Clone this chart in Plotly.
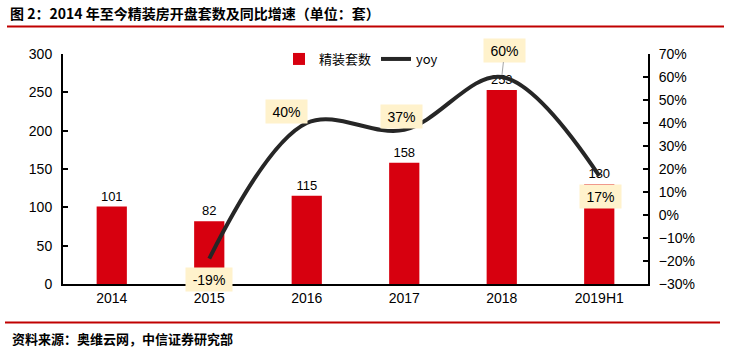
import plotly.graph_objects as go

categories = ["2014", "2015", "2016", "2017", "2018", "2019H1"]
units = [101, 82, 115, 158, 253, 130]
yoy_categories = ["2015", "2016", "2017", "2018", "2019H1"]
yoy = [-0.19, 0.40, 0.37, 0.60, 0.17]
yoy_labels = ["-19%", "40%", "37%", "60%", "17%"]

title_text = "图 2：2014 年至今精装房开盘套数及同比增速（单位：套）"
source_text = "资料来源：奥维云网，中信证券研究部"

W, H = 731, 352
L, R, T, B = 63, 83, 54, 68
pw, ph = W - L - R, H - T - B

def px_x(x):
    return (x - L) / pw

def px_y(y):
    return (H - B - y) / ph

FONT = "Liberation Sans, Arial, Noto Sans CJK SC"
CJK = "Noto Sans CJK SC, Liberation Sans"

fig = go.Figure()
fig.add_trace(go.Bar(
    x=categories, y=units, name="精装套数",
    marker=dict(color="#D7000F", line=dict(width=0)),
    width=0.31,
    texttemplate="%{y}", textposition="outside",
    textfont=dict(size=13, color="#000000", family=FONT),
    cliponaxis=False,
))
fig.add_trace(go.Scatter(
    x=yoy_categories, y=yoy, name="yoy", yaxis="y2",
    mode="lines",
    line=dict(color="#262626", width=4, shape="spline", smoothing=1.0),
))

# label offsets (pixel shifts) and box widths for the yoy data labels
shifts = [(0, -21, False, 42), (-20, 12, False, 37), (-3, 13, False, 37), (3, 27, True, 37), (1, -21, False, 37)]
for cat, v, lab, (dx, dy, arrow, bw) in zip(yoy_categories, yoy, yoy_labels, shifts):
    xi = categories.index(cat)
    common = dict(x=xi, y=v, xref="x", yref="y2", text=lab,
                  bgcolor="#FFF2CC", borderpad=2, width=bw, height=19,
                  font=dict(size=14, color="#000000", family=FONT))
    if arrow:
        fig.add_annotation(showarrow=True, arrowhead=0, arrowwidth=1, arrowcolor="#A6A6A6",
                           ax=dx, ay=-dy, standoff=2, **common)
    else:
        fig.add_annotation(showarrow=False, xshift=dx, yshift=dy, **common)

fig.add_annotation(x=px_x(10), y=px_y(338), xref="paper", yref="paper",
                   text="<b>" + source_text + "</b>", showarrow=False,
                   xanchor="left", yanchor="middle",
                   font=dict(size=13, color="#000000", family=CJK))

fig.add_shape(type="line", xref="paper", yref="paper",
              x0=px_x(7), x1=px_x(724), y0=px_y(26.5), y1=px_y(26.5),
              line=dict(color="#C00000", width=2))
fig.add_shape(type="line", xref="paper", yref="paper",
              x0=px_x(5), x1=px_x(720), y0=px_y(322.5), y1=px_y(322.5),
              line=dict(color="#C00000", width=2))

fig.update_layout(
    width=W, height=H,
    margin=dict(l=L, r=R, t=T, b=B),
    paper_bgcolor="#FFFFFF", plot_bgcolor="#FFFFFF",
    font=dict(family=FONT, size=14, color="#000000"),
    title=dict(text="<b>" + title_text + "</b>", xref="container", yref="container",
               x=10 / W, y=1 - 14 / H, xanchor="left", yanchor="middle",
               font=dict(size=14, color="#000000", family=CJK)),
    showlegend=True,
    legend=dict(orientation="h", x=px_x(279), xanchor="left", y=px_y(59), yanchor="middle",
                bgcolor="rgba(0,0,0,0)", font=dict(size=13, family=CJK),
                itemwidth=30, traceorder="normal"),
    bargap=0.69,
    xaxis=dict(type="category", categoryorder="array", categoryarray=categories,
               range=[-0.5, 5.5], showline=True, linecolor="#000000", linewidth=2,
               ticks="", showgrid=False, zeroline=False,
               tickfont=dict(size=14, family=FONT)),
    yaxis=dict(range=[0, 300], dtick=50, showline=True, linecolor="#000000", linewidth=2,
               ticks="inside", ticklen=5, tickwidth=2, tickcolor="#000000",
               showgrid=False, zeroline=False, ticklabelstandoff=6,
               tickfont=dict(size=14, family=FONT)),
    yaxis2=dict(range=[-0.3, 0.7], dtick=0.1, tickformat=".0%", overlaying="y", side="right",
                showline=True, linecolor="#000000", linewidth=2,
                ticks="inside", ticklen=5, tickwidth=2, tickcolor="#000000",
                showgrid=False, zeroline=False, ticklabelstandoff=6,
                tickfont=dict(size=14, family=FONT)),
)

fig.write_html("out.html")
